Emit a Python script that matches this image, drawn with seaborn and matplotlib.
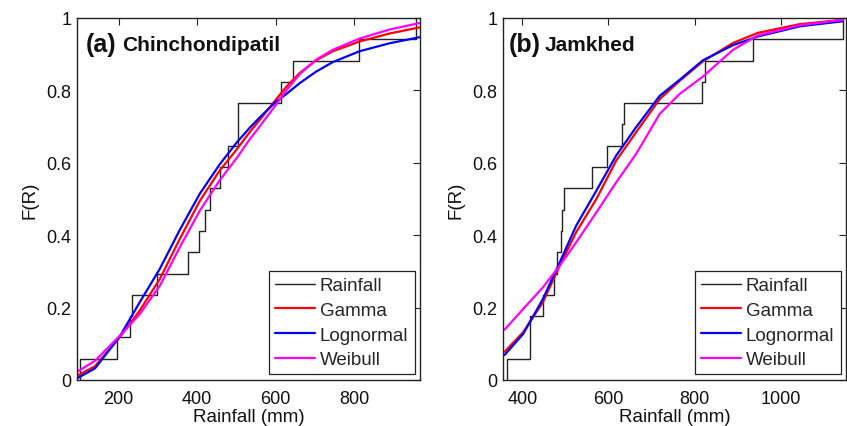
import numpy as np
import pandas as pd
import matplotlib
matplotlib.use("Agg")
import matplotlib.pyplot as plt
import seaborn as sns

# ---------------- data ----------------
# Panel (a) Chinchondipatil: observed rainfall (sorted) for the empirical CDF
rain_a = [102, 197, 229, 235, 299, 377, 405, 419, 434, 457, 479, 504, 504,
          614, 644, 813, 957]
# fitted CDF curves
x_a = [95, 140, 203, 254, 305, 356, 407, 457, 500, 534, 559, 597, 627, 661,
       703, 745, 813, 889, 966]
gamma_a = [0.012, 0.038, 0.118, 0.192, 0.279, 0.390, 0.495, 0.578, 0.636,
           0.685, 0.718, 0.770, 0.810, 0.848, 0.883, 0.908, 0.935, 0.957, 0.974]
lognorm_a = [0.005, 0.032, 0.120, 0.215, 0.307, 0.415, 0.515, 0.595, 0.655,
             0.697, 0.725, 0.765, 0.790, 0.820, 0.852, 0.878, 0.908, 0.930, 0.947]
weibull_a = [0.023, 0.053, 0.122, 0.182, 0.260, 0.367, 0.468, 0.551, 0.612,
             0.665, 0.700, 0.755, 0.800, 0.845, 0.885, 0.912, 0.943, 0.968, 0.986]

# Panel (b) Jamkhed
rain_b = [365, 418, 418, 447, 473, 481, 489, 493, 497, 563, 596, 632, 637,
          818, 824, 935, 1145]
x_b = [359, 402, 448, 487, 525, 572, 618, 664, 719, 765, 819, 889, 947,
       1044, 1144]
gamma_b = [0.078, 0.132, 0.215, 0.316, 0.408, 0.500, 0.606, 0.684, 0.776,
           0.826, 0.880, 0.931, 0.959, 0.983, 0.995]
lognorm_b = [0.069, 0.127, 0.224, 0.325, 0.426, 0.523, 0.620, 0.698, 0.785,
             0.829, 0.883, 0.925, 0.949, 0.977, 0.991]
weibull_b = [0.139, 0.196, 0.256, 0.316, 0.380, 0.463, 0.546, 0.624, 0.735,
             0.790, 0.838, 0.912, 0.952, 0.980, 0.995]

series_names = ["Gamma", "Lognormal", "Weibull"]
series_colors = ["#FF0000", "#0000FF", "#FF00FF"]
y_ticks = [0, 0.2, 0.4, 0.6, 0.8, 1.0]
y_ticklabels = ["0", "0.2", "0.4", "0.6", "0.8", "1"]
panels = [
    dict(tag="(a)", name="Chinchondipatil", rain=rain_a, x=x_a,
         fits=[gamma_a, lognorm_a, weibull_a], xlim=(95, 968),
         xticks=[200, 400, 600, 800], tag_x=8, name_x=44.5),
    dict(tag="(b)", name="Jamkhed", rain=rain_b, x=x_b,
         fits=[gamma_b, lognorm_b, weibull_b], xlim=(356, 1152),
         xticks=[400, 600, 800, 1000], tag_x=5, name_x=41),
]

# ---------------- style ----------------
sns.set_theme(style="white")
plt.rcParams["font.family"] = ["Liberation Sans", "DejaVu Sans"]
plt.rcParams["axes.edgecolor"] = "#222222"
plt.rcParams["axes.linewidth"] = 1.0

W, H = 847, 427
fig = plt.figure(figsize=(W / 100, H / 100), dpi=100)
axes_px = [(77.3, 19, 343, 362), (503.3, 19, 343, 362)]

for p, (lx, ty, w, h) in zip(panels, axes_px):
    ax = fig.add_axes([lx / W, (H - ty - h) / H, w / W, h / H])
    sns.ecdfplot(x=p["rain"], ax=ax, color="#222222", lw=1.0, label="Rainfall")
    for name, col, vals in zip(series_names, series_colors, p["fits"]):
        df = pd.DataFrame({"x": p["x"], "F": vals})
        sns.lineplot(data=df, x="x", y="F", ax=ax, color=col, lw=1.6,
                     label=name, sort=False)
    ax.set_xlim(*p["xlim"])
    ax.set_ylim(0, 1)
    ax.set_xticks(p["xticks"])
    ax.set_yticks(y_ticks)
    ax.set_yticklabels(y_ticklabels)
    ax.tick_params(direction="in", length=5, width=0.8, top=True, right=True,
                   labelsize=13, colors="#222222", pad=4)
    ax.tick_params(axis="x", pad=7)
    ax.tick_params(axis="both", labelcolor="#111111")
    ax.set_xlabel("Rainfall (mm)", fontsize=13.5, labelpad=1, color="#111111")
    ax.set_ylabel("F(R)", fontsize=13.5, labelpad=6, color="#111111")
    for s in ax.spines.values():
        s.set_visible(True)
        s.set_color("#222222")
    leg = ax.legend(loc="lower right", fontsize=13.5, frameon=True,
                    fancybox=False, edgecolor="#222222", framealpha=1,
                    handlelength=2.15, handletextpad=0.25, labelspacing=0.40,
                    borderpad=0.33, borderaxespad=0.3)
    leg.get_frame().set_linewidth(0.9)
    # panel labels
    ax.text(p["tag_x"] / w, (h - 33) / h, p["tag"], transform=ax.transAxes,
            fontsize=18, fontweight="bold", va="baseline", ha="left",
            color="#111111")
    ax.text(p["name_x"] / w, (h - 32) / h, p["name"], transform=ax.transAxes,
            fontsize=15, fontweight="bold", va="baseline", ha="left",
            color="#111111")

fig.savefig("out.png", dpi=100)
